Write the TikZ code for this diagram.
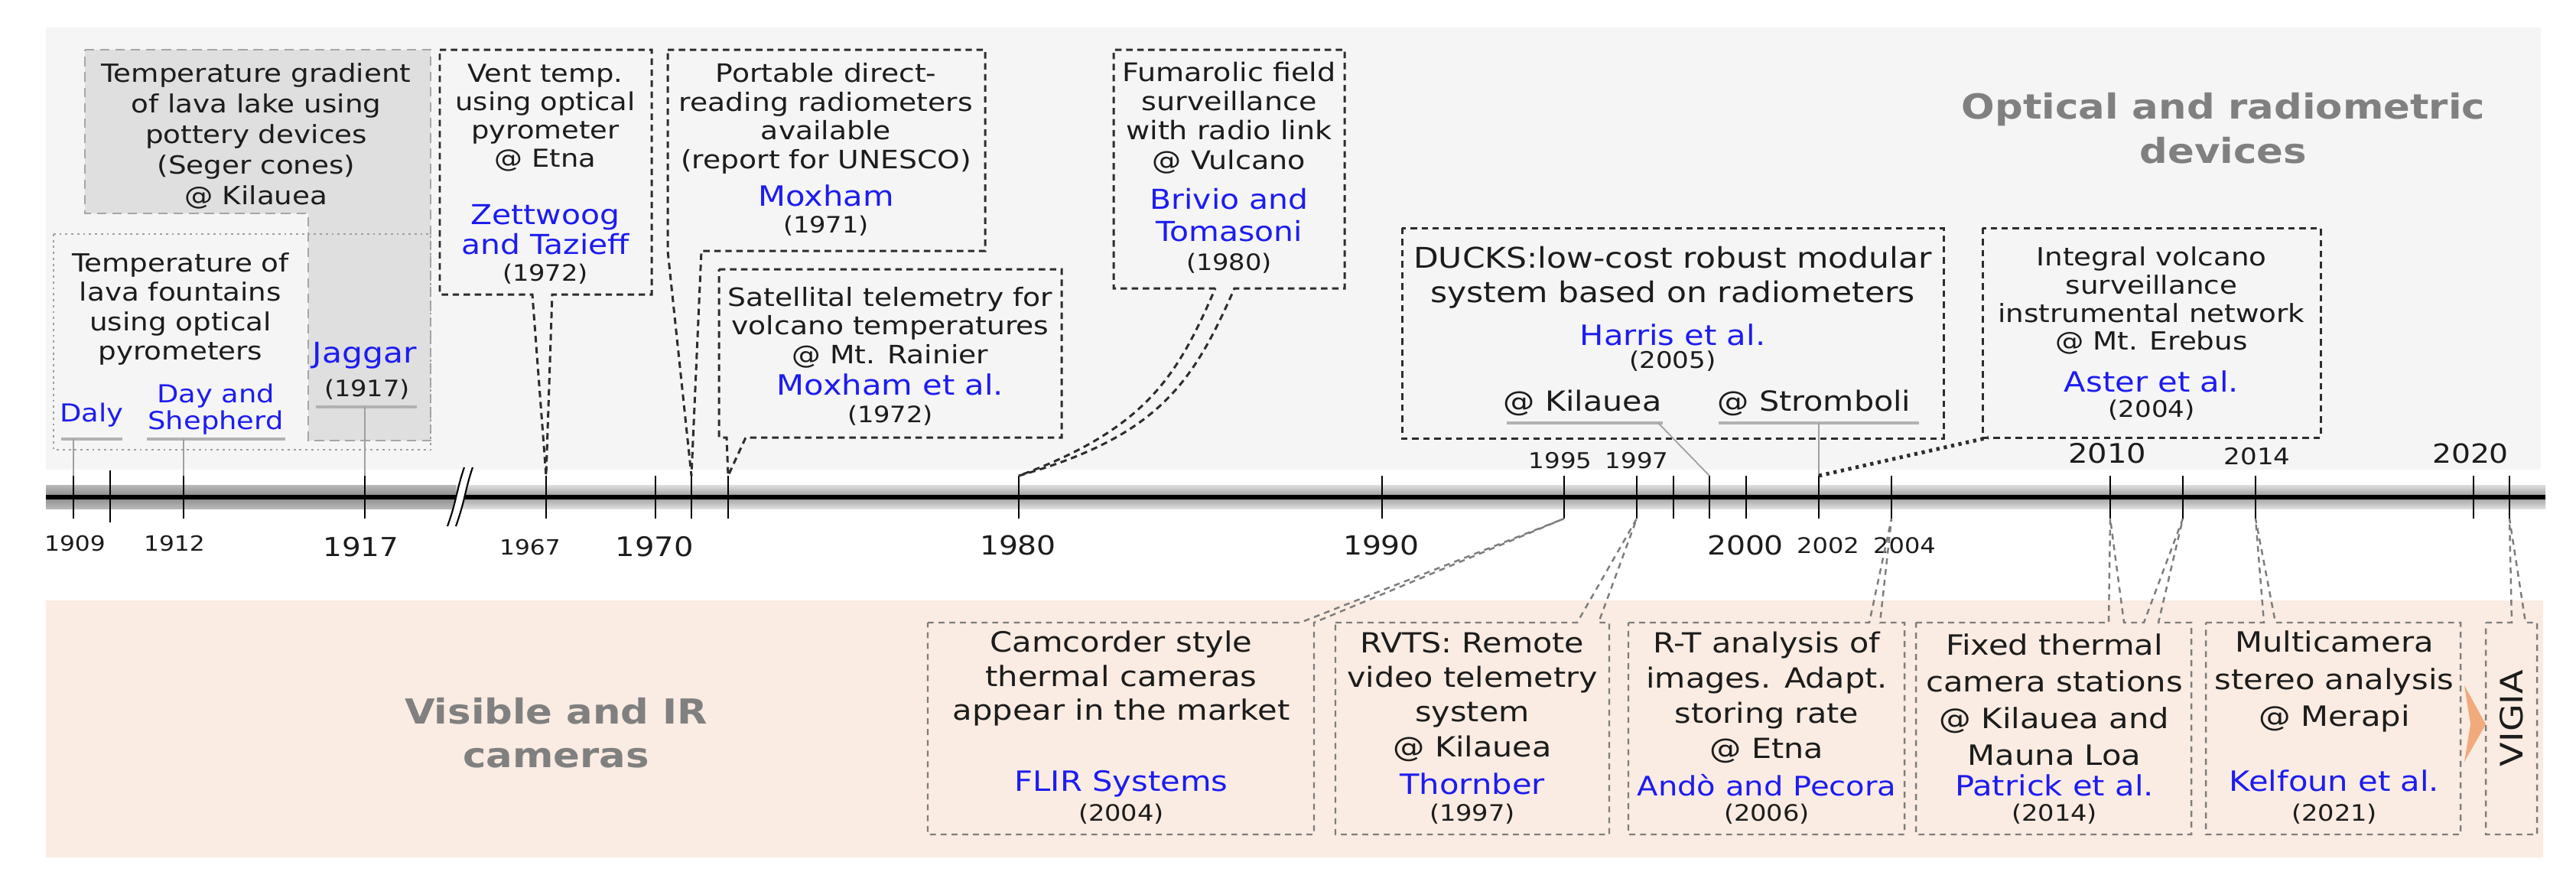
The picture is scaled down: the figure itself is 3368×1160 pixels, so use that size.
\documentclass[tikz,border=0pt]{standalone}
\usepackage{fontspec}
\setmainfont{DejaVu Sans}[FakeStretch=1.14]
\usetikzlibrary{calc}
\definecolor{txt}{RGB}{28,28,28}
\definecolor{bluename}{RGB}{28,28,240}
\definecolor{panelgray}{RGB}{245,245,245}
\definecolor{panelpeach}{RGB}{250,236,226}
\definecolor{boxgray}{RGB}{223,223,223}
\definecolor{darkdash}{RGB}{45,45,45}
\definecolor{lightdash}{RGB}{125,125,125}
\definecolor{headgray}{RGB}{128,128,128}
\definecolor{arroworange}{RGB}{241,170,124}
\begin{document}
\begin{tikzpicture}[x=0.01cm,y=-0.01cm,
  fs/.style 2 args={font=\fontsize{#1}{#2}\selectfont},
  fsb/.style 2 args={font=\fontsize{#1}{#2}\selectfont\bfseries},
  desc/.style={text=txt,align=center,inner sep=0pt},
  nm/.style={text=bluename,align=center,inner sep=0pt,font=\fontsize{10.4}{12}\selectfont},
  yr/.style={text=txt,inner sep=0pt,font=\fontsize{8.4}{10}\selectfont},
  lab/.style={text=txt,inner sep=0pt},
  darkbox/.style={draw=darkdash,line width=0.85pt,dash pattern=on 2.4pt off 1.7pt},
  graybox/.style={draw=lightdash,line width=0.7pt,dash pattern=on 2.2pt off 1.8pt},
  uline/.style={draw=gray!60,line width=1.2pt},
  thinconn/.style={draw=gray!75,line width=0.5pt},
  tickmark/.style={draw=black,line width=0.7pt},
  head/.style={text=headgray,align=center,inner sep=0pt}
]
\useasboundingbox (0,0) rectangle (3368,1160);
% panels
\fill[panelgray] (60,36) rectangle (3322,614);
\fill[panelpeach] (60,785) rectangle (3325,1121);
% timeline band
\shade[top color=gray!55,bottom color=gray!55,middle color=gray!92] (60,634) rectangle (596,665);
\shade[top color=gray!25,bottom color=gray!25,middle color=gray!80] (596,634) rectangle (3328,665);
\draw[line width=1.5pt] (60,650) -- (3328,650);
% ticks
\foreach \yr/\xx in {1909/96,1912/240,1917/477,1967/714,1970/857,1971/904,1972/952,1980/1332,1990/1807,1995/2045,1997/2140,1998/2188,1999/2235,2000/2283,2002/2378,2004/2473,2010/2759,2012/2854,2014/2949,2020/3234,2021/3281}{
  \coordinate (u\yr) at (\xx,622);
  \coordinate (d\yr) at (\xx,678);
  \draw[tickmark] (u\yr) -- (d\yr);
}
\coordinate (u1910) at (144,615);
\coordinate (d1910) at (144,683);
\draw[tickmark] (u1910) -- (d1910);
% break
\fill[white] (607,611) .. controls (597,640) and (597,655) .. (585,688) -- (596,688) .. controls (608,655) and (608,640) .. (618,611) -- cycle;
\draw[line width=0.6pt] (607,611) .. controls (597,640) and (597,655) .. (585,688);
\draw[line width=0.6pt] (618,611) .. controls (608,640) and (608,655) .. (596,688);
% tick labels
\node[lab,fs={7.8}{9}] (l1909) at (98,711) {1909};
\node[lab,fs={7.8}{9}] (l1912) at (228,711) {1912};
\node[lab,fs={9.7}{11}] (l1917) at (472,715) {1917};
\node[lab,fs={7.8}{9}] (l1967) at (693,716) {1967};
\node[lab,fs={10}{11}] (l1970) at (856,715) {1970};
\node[lab,fs={9.8}{11}] (l1980) at (1331,713) {1980};
\node[lab,fs={9.8}{11}] (l1990) at (1806,713) {1990};
\node[lab,fs={9.8}{11}] (l2000) at (2282,713) {2000};
\node[lab,fs={8}{9}] (l2002) at (2390,713) {2002};
\node[lab,fs={8}{9}] (l2004) at (2490,713) {2004};
\node[lab,fs={8.1}{9}] (l1995) at (2040,602) {1995};
\node[lab,fs={8.1}{9}] (l1997) at (2140,602) {1997};
\node[lab,fs={10}{11}] (l2010) at (2755,593) {2010};
\node[lab,fs={8.5}{9}] (l2014) at (2951,597) {2014};
\node[lab,fs={9.8}{11}] (l2020) at (3230,593) {2020};

% ---- Temperature gradient (gray L-shape)
\draw[fill=boxgray,draw=gray!70,line width=0.8pt,dash pattern=on 3.5pt off 2.2pt]
  (111,65) -- (563,65) -- (563,576) -- (403,576) -- (403,279) -- (111,279) -- cycle;
% ---- Fountains box (dotted)
\draw[draw=gray!75,line width=0.8pt,dash pattern=on 0.8pt off 1.4pt] (70,306) rectangle (563,588);
\node[desc,fs={9.3}{11.4}] (tgtext) at (335,178) {Temperature gradient\\of lava lake using\\pottery devices\\(Seger cones)\\@ Kilauea};
\node[desc,fs={9.3}{10.9}] (ftext) at (236,404) {Temperature of\\lava fountains\\using optical\\pyrometers};
\node[nm,fs={9.2}{10}] (daly) at (120,543) {Daly};
\node[nm,fs={9.2}{10}] (dayshep) at (282,535) {Day and\\Shepherd};
\node[nm,fs={10.6}{12}] (jaggar) at (477,465) {Jaggar};
\node[yr] (jaggaryr) at (480,509) {(1917)};
\coordinate (dalyU) at (96,574);
\coordinate (dayU) at (240,574);
\coordinate (jagU) at (477,532);
\draw[uline] (80,574) -- (160,574);
\draw[uline] (192,574) -- (373,574);
\draw[uline] (413,532) -- (545,532);
\draw[thinconn] (dalyU) -- (u1909);
\draw[thinconn] (dayU) -- (u1912);
\draw[thinconn] (jagU) -- (u1917);

% ---- Vent temp
\draw[darkbox] (575,65) -- (852,65) -- (852,385) -- (722,385) -- (u1967) -- (696,385) -- (575,385) -- cycle;
\node[desc,fs={9.2}{10.5}] (venttext) at (713,154) {Vent temp.\\using optical\\pyrometer\\@ Etna};
\node[nm,fs={10.2}{11.1}] (zett) at (713,300) {Zettwoog\\and Tazieff};
\node[yr] (zettyr) at (713,358) {(1972)};

% ---- Portable
\draw[darkbox] (873,65) -- (1288,65) -- (1288,328) -- (917,328) -- (u1971) -- (873,328) -- cycle;
\node[desc,fs={9.4}{10.7}] (porttext) at (1080,155) {Portable direct-\\reading radiometers\\available\\(report for UNESCO)};
\node[nm] (moxham) at (1080,256) {Moxham};
\node[yr] (moxhamyr) at (1080,295) {(1971)};

% ---- Satellital
\draw[darkbox] (940,352) -- (1388,352) -- (1388,572) -- (975,572) -- (u1972) -- (950,572) -- (940,572) -- cycle;
\node[desc,fs={9.4}{10.7}] (sattext) at (1164,428) {Satellital telemetry for\\volcano temperatures\\@ Mt. Rainier};
\node[nm] (moxetal) at (1164,503) {Moxham et al.};
\node[yr] (moxetalyr) at (1164,543) {(1972)};

% ---- Fumarolic
\draw[darkbox] (1589,377) -- (1456,377) -- (1456,65) -- (1758,65) -- (1758,377) -- (1614,377)
  .. controls (1560,500) and (1515,570) .. (u1980)
  .. controls (1500,560) and (1540,490) .. (1589,377);
\node[desc,fs={9.5}{10.9}] (fumtext) at (1607,154) {Fumarolic field\\surveillance\\with radio link\\@ Vulcano};
\node[nm,fs={10.2}{12}] (brivio) at (1607,281) {Brivio and\\Tomasoni};
\node[yr] (brivioyr) at (1607,344) {(1980)};

% ---- DUCKS
\draw[darkbox] (1833,298) rectangle (2541,573);
\node[desc,fs={10.6}{12.8}] (duckstext) at (2187,363) {DUCKS:low-cost robust modular\\system based on radiometers};
\node[nm] (harris) at (2187,438) {Harris et al.};
\node[yr,fs={8.5}{10}] (harrisyr) at (2187,472) {(2005)};
\node[desc,fs={10.3}{12}] (dkil) at (2069,527) {@ Kilauea};
\node[desc,fs={10.3}{12}] (dstr) at (2372,527) {@ Stromboli};
\coordinate (kilU) at (2168,553);
\coordinate (strU) at (2378,553);
\draw[uline] (1970,553) -- (2174,553);
\draw[uline] (2247,553) -- (2509,553);
\draw[thinconn] (kilU) -- (u1999);
\draw[thinconn] (strU) -- (u2002);

% ---- Integral
\draw[darkbox] (2592,298) rectangle (3034,572);
\coordinate (intC) at (2600,572);
\draw[darkdash,line width=1.4pt,dash pattern=on 1.2pt off 1.6pt] (u2002) -- (intC);
\node[desc,fs={9.3}{10.5}] (inttext) at (2813,393) {Integral volcano\\surveillance\\instrumental network\\@ Mt. Erebus};
\node[nm] (aster) at (2813,499) {Aster et al.};
\node[yr,fs={8.5}{10}] (asteryr) at (2813,536) {(2004)};

% ---- headings
\node[head,fsb={12.8}{16.4}] (opt) at (2907,168) {Optical and radiometric\\devices};
\node[head,fsb={12.8}{16.2}] (vis) at (727,958) {Visible and IR\\cameras};

% ---- bottom boxes
\draw[graybox] (1213,814) -- (1700,814) -- (d1995) -- (1718,814) -- (1718,1091) -- (1213,1091) -- cycle;
\node[desc,fs={10.4}{12.7}] (camtext) at (1466,887) {Camcorder style\\thermal cameras\\appear in the market};
\node[nm] (flir) at (1466,1025) {FLIR Systems};
\node[yr] (flyr) at (1466,1064) {(2004)};

\draw[graybox] (1746,814) -- (2062,814) -- (d1997) -- (2090,814) -- (2104,814) -- (2104,1091) -- (1746,1091) -- cycle;
\node[desc,fs={10.3}{12.9}] (rvtstext) at (1925,911) {RVTS: Remote\\video telemetry\\system\\@ Kilauea};
\node[nm] (thorn) at (1925,1025) {Thornber};
\node[yr] (thornyr) at (1925,1064) {(1997)};

\draw[graybox] (2129,814) -- (2444,814) -- (d2004) -- (2458,814) -- (2490,814) -- (2490,1091) -- (2129,1091) -- cycle;
\node[desc,fs={10.3}{13.1}] (rttext) at (2310,912) {R-T analysis of\\images. Adapt.\\storing rate\\@ Etna};
\node[nm,fs={10}{12}] (ando) at (2310,1027) {Andò and Pecora};
\node[yr] (andoyr) at (2310,1064) {(2006)};

\draw[graybox] (2505,814) -- (2757,814) -- (d2010) -- (2777,814) -- (2803,814) -- (d2012) -- (2822,814) -- (2865,814) -- (2865,1091) -- (2505,1091) -- cycle;
\node[desc,fs={10.4}{13.7}] (fixtext) at (2686,915) {Fixed thermal\\camera stations\\@ Kilauea and\\Mauna Loa};
\node[nm] (patrick) at (2686,1027) {Patrick et al.};
\node[yr] (patrickyr) at (2686,1064) {(2014)};

\draw[graybox] (2884,814) -- (2960,814) -- (d2014) -- (2975,814) -- (3217,814) -- (3217,1091) -- (2884,1091) -- cycle;
\node[desc,fs={10.4}{13.8}] (multext) at (3052,891) {Multicamera\\stereo analysis\\@ Merapi};
\node[nm] (kelfoun) at (3052,1021) {Kelfoun et al.};
\node[yr] (kelfounyr) at (3052,1064) {(2021)};

\draw[graybox] (3250,814) -- (3284,814) -- (d2021) -- (3302,814) -- (3317,814) -- (3317,1091) -- (3250,1091) -- cycle;
\node[desc,rotate=90,fs={11.5}{12}] (vigia) at (3284,939) {VIGIA};
\fill[arroworange] (3222,896) -- (3250,947) -- (3222,996) -- (3230,947) -- cycle;
\end{tikzpicture}
\end{document}
